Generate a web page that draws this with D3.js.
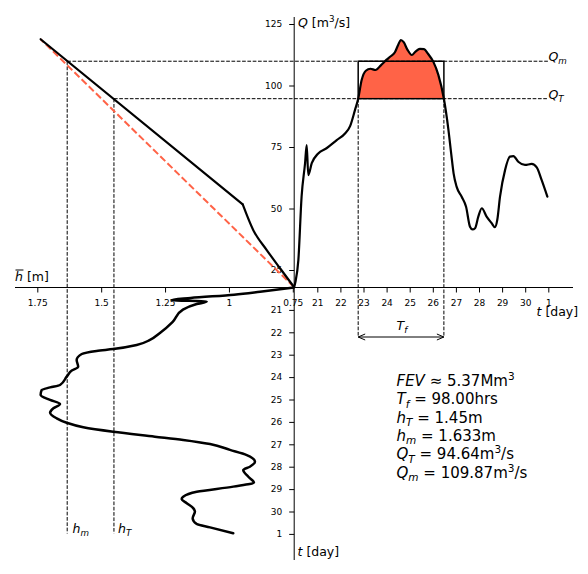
<!DOCTYPE html>
<html><head><meta charset="utf-8">
<script src="https://cdn.jsdelivr.net/npm/d3@7"></script>
<style>
body{margin:0;background:#fff}
svg text{font-family:"DejaVu Sans",sans-serif;fill:#000;white-space:pre}
</style>
</head><body>
<svg id="c" width="588" height="574"></svg>
<script>
// ---------------- data ----------------
// hydrograph Q(t), t in days counted from day 20
const qTime = [20.00,20.05,20.18,20.32,20.47,20.54,20.61,20.76,21.04,21.40,21.84,22.20,22.42,22.63,22.77,22.92,23.10,23.30,23.52,23.75,24.00,24.15,24.36,24.50,24.62,24.74,24.90,25.09,25.25,25.44,25.62,25.80,26.02,26.24,26.48,26.67,26.80,26.90,27.03,27.25,27.44,27.61,27.72,27.83,27.97,28.12,28.33,28.55,28.69,28.79,28.91,29.13,29.34,29.49,29.70,29.99,30.28,30.50,30.71,30.96];
const qValues = [18.1,20.0,29.0,54.8,68.4,75.8,63.6,68.4,72.4,74.5,77.8,80.5,83.5,90.0,94.6,102.2,106.0,106.8,106.3,108.2,110.5,111.7,113.5,116.5,118.5,117.6,114.6,112.4,113.8,114.9,114.8,112.8,109.7,104.3,94.6,82.5,72.0,64.3,58.9,54.8,50.7,42.6,41.5,42.0,46.7,50.1,46.7,44.0,42.4,45.3,54.8,65.7,71.1,71.3,69.0,67.7,68.1,66.7,61.6,54.8];
// mean stage h(t)
const hTime = [20.00,20.19,20.32,20.47,20.56,20.63,20.74,20.99,21.53,22.03,22.34,22.57,22.75,22.83,22.97,23.24,23.54,23.71,23.98,24.35,24.46,24.58,24.80,25.02,25.20,25.39,25.59,25.84,26.04,26.24,26.44,26.66,26.81,26.99,27.25,27.48,27.78,28.00,28.15,28.45,28.71,28.89,29.12,29.34,29.44,29.63,29.86,30.00,30.30,30.56,30.71,30.97];
const hValues = [0.7455,0.878,0.98,1.15,1.225,1.087,1.126,1.18,1.22,1.27,1.309,1.361,1.453,1.518,1.576,1.596,1.59,1.615,1.635,1.661,1.70,1.733,1.737,1.70,1.661,1.687,1.70,1.674,1.635,1.57,1.453,1.29,1.179,1.074,0.996,0.93,0.898,0.918,0.944,0.924,0.902,0.983,1.126,1.179,1.185,1.165,1.139,1.133,1.142,1.126,1.074,0.983];
// rating curve h -> Q (curved low part, then straight upper part)
const ratingLowH = [0.7455,0.80,0.852,0.905,0.946];
const ratingLowQ = [18.1,25.7,33.1,41.3,51.7];
const ratingHighH = [0.946,1.737];
const ratingHighQ = [51.7,118.8];
// linear reference (dashed red)
const linearH = [0.7455,1.737];
const linearQ = [18.1,118.8];
// thresholds
const QT = 94.64, Qm = 109.87, hT = 1.45, hm = 1.633;
const tfStart = 22.77, tfEnd = 26.48;
// ticks
const qTicks = [25,50,75,100,125];
const hTicks = [0.75,1,1.25,1.5,1.75];
const hTickLabels = ["0.75","1","1.25","1.5","1.75"];
const dayTicks = [21,22,23,24,25,26,27,28,29,30,31];
const dayTickLabels = ["21","22","23","24","25","26","27","28","29","30","1"];
// annotation lines
const statLines = [
  [["FEV","i"],[" \u2248 5.37Mm"],["3","sup"]],
  [["T","i"],["f","isub"],[" = 98.00hrs"]],
  [["h","i"],["T","isub"],[" = 1.45m"]],
  [["h","i"],["m","isub"],[" = 1.633m"]],
  [["Q","i"],["T","isub"],[" = 94.64m"],["3","sup"],["/s"]],
  [["Q","i"],["m","isub"],[" = 109.87m"],["3","sup"],["/s"]]
];

// ---------------- layout ----------------
const X0 = 294.2, Y0 = 287.5;
const RED = "#ff6347";
const svg = d3.select("#c");

const xT = d3.scaleLinear().domain([20,31]).range([X0,548.3]);
const yQ = d3.scaleLinear().domain([25,125]).range([270,24]);
const xH = d3.scaleLinear().domain([0.75,1.75]).range([292.8,37.3]);
const yT = d3.scaleLinear().domain([20,31]).range([Y0,533.9]);

function rich(sel, x, y, segs, size){
  const t = sel.append("text").attr("x",x).attr("y",y).attr("font-size",size);
  let off = 0;
  segs.forEach(([txt,st])=>{
    st = st||"";
    let target = 0, fs = size;
    if (st.indexOf("sub")>=0){ target = 0.22*size; fs = 0.7*size; }
    if (st.indexOf("sup")>=0){ target = -0.4*size; fs = 0.7*size; }
    const sp = t.append("tspan").text(txt).attr("font-size",fs);
    if (target-off !== 0) sp.attr("dy", target-off);
    if (st.indexOf("i")===0) sp.attr("font-style","italic");
    off = target;
  });
  return t;
}

// ---------------- fill + box ----------------
svg.append("defs").append("clipPath").attr("id","above")
  .append("rect").attr("x",0).attr("y",0).attr("width",588).attr("height",yQ(QT));
const qData = qTime.map((t,i)=>({t, q:qValues[i]}));
svg.append("path").datum(qData.filter(d=>d.t>=tfStart-0.2 && d.t<=tfEnd+0.2))
  .attr("clip-path","url(#above)")
  .attr("fill",RED)
  .attr("d", d3.area().x(d=>xT(d.t)).y0(yQ(QT)).y1(d=>yQ(d.q)).curve(d3.curveMonotoneX));

// dashed guide lines
const dash = (x1,y1,x2,y2)=> svg.append("line").attr("x1",x1).attr("y1",y1).attr("x2",x2).attr("y2",y2)
  .attr("stroke","#000").attr("stroke-width",1).attr("stroke-dasharray","3.7,1.6");
dash(xH(hm), yQ(Qm), 548, yQ(Qm));
dash(xH(hT), yQ(QT), 548, yQ(QT));
dash(xH(hm), yQ(Qm), xH(hm), 533.5);
dash(xH(hT), yQ(QT), xH(hT), 533.5);
const arrowY = 337;
dash(xT(tfStart), yQ(QT), xT(tfStart), arrowY);
dash(xT(tfEnd), yQ(QT), xT(tfEnd), arrowY);

svg.append("rect").attr("x",xT(tfStart)).attr("y",yQ(Qm))
  .attr("width",xT(tfEnd)-xT(tfStart)).attr("height",yQ(QT)-yQ(Qm))
  .attr("fill","none").attr("stroke","#000").attr("stroke-width",1.5);

// T_f arrow
const ax1 = xT(tfStart), ax2 = xT(tfEnd);
svg.append("path").attr("fill","none").attr("stroke","#000").attr("stroke-width",1)
  .attr("d",`M${ax1},${arrowY}H${ax2}M${ax1+7},${arrowY-3}L${ax1},${arrowY}L${ax1+7},${arrowY+3}M${ax2-7},${arrowY-3}L${ax2},${arrowY}L${ax2-7},${arrowY+3}`);

// ---------------- spines ----------------
svg.append("line").attr("x1",15).attr("x2",573).attr("y1",Y0).attr("y2",Y0).attr("stroke","#000").attr("stroke-width",1);
svg.append("line").attr("x1",X0).attr("x2",X0).attr("y1",17).attr("y2",560).attr("stroke","#000").attr("stroke-width",1);

// ---------------- axes ----------------
function styleAxis(g){
  g.select(".domain").remove();
  g.selectAll("text").attr("font-size",9).attr("font-family","DejaVu Sans").attr("fill","#000");
  g.selectAll("line").attr("stroke","#000");
}
svg.append("g").attr("transform",`translate(${X0},0)`)
  .call(d3.axisLeft(yQ).tickValues(qTicks).tickSize(5).tickPadding(7)).call(styleAxis);
svg.append("g").attr("transform",`translate(0,${Y0})`)
  .call(d3.axisBottom(xT).tickValues(dayTicks).tickFormat((d,i)=>dayTickLabels[i]).tickSize(5).tickPadding(7)).call(styleAxis);
svg.append("g").attr("transform",`translate(0,${Y0})`)
  .call(d3.axisBottom(xH).tickValues(hTicks).tickFormat((d,i)=>hTickLabels[i]).tickSize(5).tickPadding(7)).call(styleAxis);
svg.append("g").attr("transform",`translate(${X0},0)`)
  .call(d3.axisLeft(yT).tickValues(dayTicks).tickFormat((d,i)=>dayTickLabels[i]).tickSize(5).tickPadding(7)).call(styleAxis);

// ---------------- curves ----------------
// dashed red linear
svg.append("path").datum(linearH.map((h,i)=>({h,q:linearQ[i]})))
  .attr("fill","none").attr("stroke",RED).attr("stroke-width",2).attr("stroke-dasharray","7,3")
  .attr("d", d3.line().x(d=>xH(d.h)).y(d=>yQ(d.q)));
// rating curve
svg.append("path").datum(ratingLowH.map((h,i)=>({h,q:ratingLowQ[i]})))
  .attr("fill","none").attr("stroke","#000").attr("stroke-width",2.2).attr("stroke-linecap","round")
  .attr("d", d3.line().x(d=>xH(d.h)).y(d=>yQ(d.q)).curve(d3.curveMonotoneX));
svg.append("path").datum(ratingHighH.map((h,i)=>({h,q:ratingHighQ[i]})))
  .attr("fill","none").attr("stroke","#000").attr("stroke-width",2.2).attr("stroke-linecap","round")
  .attr("d", d3.line().x(d=>xH(d.h)).y(d=>yQ(d.q)));
// hydrograph
svg.append("path").datum(qData)
  .attr("fill","none").attr("stroke","#000").attr("stroke-width",2.2).attr("stroke-linecap","round").attr("stroke-linejoin","round")
  .attr("d", d3.line().x(d=>xT(d.t)).y(d=>yQ(d.q)).curve(d3.curveMonotoneX));
// stage series
svg.append("path").datum(hTime.map((t,i)=>({t,h:hValues[i]})))
  .attr("fill","none").attr("stroke","#000").attr("stroke-width",2.5).attr("stroke-linecap","round").attr("stroke-linejoin","round")
  .attr("d", d3.line().x(d=>xH(d.h)).y(d=>yT(d.t)).curve(d3.curveMonotoneY));

// ---------------- labels ----------------
const LS = 12.5;
rich(svg, 298, 27, [["Q","i"],[" [m"],["3","sup"],["/s]"]], LS);
rich(svg, 536.5, 316, [["t","i"],[" [day]"]], LS);
rich(svg, 297.5, 556, [["t","i"],[" [day]"]], LS);
const hl = rich(svg, 15, 281, [["h","i"],[" [m]"]], LS);
const hw = hl.select("tspan").node().getComputedTextLength();
svg.append("line").attr("x1",15.5).attr("x2",15.5+hw).attr("y1",270).attr("y2",270).attr("stroke","#000").attr("stroke-width",1);
rich(svg, 548.5, 61, [["Q","i"],["m","isub"]], LS);
rich(svg, 548.5, 99, [["Q","i"],["T","isub"]], LS);
rich(svg, 396.5, 330, [["T","i"],["f","isub"]], LS);
rich(svg, 72.5, 533, [["h","i"],["m","isub"]], LS);
rich(svg, 118, 533, [["h","i"],["T","isub"]], LS);

statLines.forEach((segs,i)=> rich(svg, 396.5, 386 + i*18.3, segs, 15));
</script>
</body></html>
